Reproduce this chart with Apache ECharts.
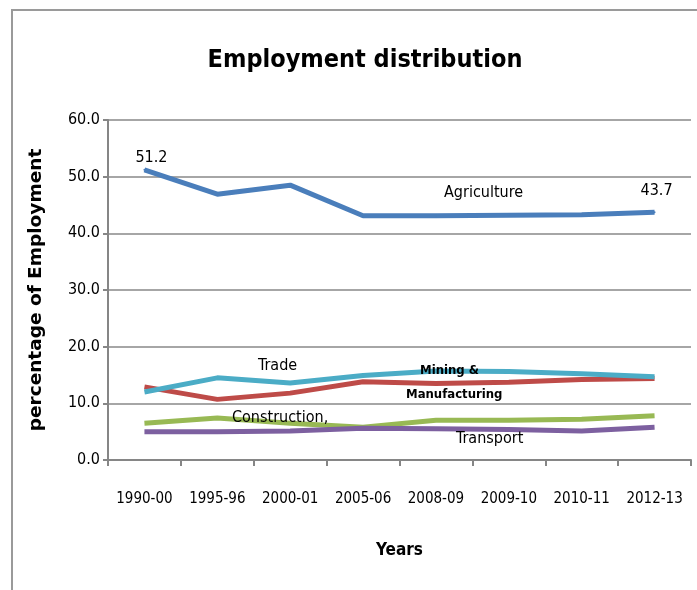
<!DOCTYPE html>
<html><head><meta charset="utf-8">
<script src="https://cdn.jsdelivr.net/npm/echarts@6/dist/echarts.min.js"></script>
<style>html,body{margin:0;padding:0;background:#fff}#c{width:697px;height:590px}</style>
</head><body><div id="c"></div>
<script>
const categories = ['1990-00','1995-96','2000-01','2005-06','2008-09','2009-10','2010-11','2012-13'];
const agriculture = [51.2, 46.9, 48.5, 43.1, 43.1, 43.2, 43.3, 43.7];
const trade = [12.0, 14.5, 13.6, 14.9, 15.7, 15.6, 15.2, 14.7];
const mining = [12.9, 10.7, 11.8, 13.8, 13.5, 13.7, 14.2, 14.4];
const construction = [6.5, 7.4, 6.5, 5.8, 7.0, 7.0, 7.2, 7.8];
const transport = [5.0, 5.0, 5.1, 5.6, 5.5, 5.4, 5.1, 5.8];
const yTicks = [0, 10, 20, 30, 40, 50, 60];

const narrow = '"Liberation Sans Narrow", "DejaVu Sans Condensed", sans-serif';
const chart = echarts.init(document.getElementById('c'), null, {renderer:'canvas'});

function s(name, data, color, extra) {
  return Object.assign({
    name, type:'line', data, symbol:'none', smooth:false,
    lineStyle:{color, width:5}, itemStyle:{color}, z:2
  }, extra||{});
}
const lastIdx = agriculture.length - 1;
const agriItems = agriculture.map((v, i) => {
  if (i === 0) return {value:v, label:{show:true, distance:3, offset:[7,0]}};
  if (i === lastIdx) return {value:v, label:{show:true, distance:13, offset:[2,0]}};
  return {value:v, label:{show:false}};
});

chart.setOption({
  animation:false,
  title:{text:'Employment distribution', left:360, top:43, textAlign:'center',
    textStyle:{fontFamily:narrow, fontWeight:'bold', fontSize:25, color:'#000'}},
  grid:{left:108, right:6, top:120, bottom:130, containLabel:false},
  xAxis:{type:'category', data:categories, boundaryGap:true,
    name:'Years', nameLocation:'middle', nameGap:82,
    nameTextStyle:{fontFamily:narrow, fontWeight:'bold', fontSize:17, color:'#000'},
    axisLine:{lineStyle:{color:'#868686', width:2}},
    axisTick:{show:true, length:6, interval:0, lineStyle:{color:'#868686', width:2}},
    axisLabel:{fontFamily:narrow, fontSize:15, color:'#000', margin:32, interval:0}},
  yAxis:{type:'value', min:yTicks[0], max:yTicks[yTicks.length-1], interval:10,
    name:'percentage of Employment', nameLocation:'middle', nameGap:62, nameRotate:90,
    nameTextStyle:{fontFamily:'"DejaVu Sans", sans-serif', fontWeight:'bold', fontSize:18.5, color:'#000'},
    axisLine:{show:true, lineStyle:{color:'#868686', width:2}},
    axisTick:{show:true, length:5, lineStyle:{color:'#868686', width:2}},
    splitLine:{lineStyle:{color:'#a6a6a6', width:2}},
    axisLabel:{fontFamily:narrow, fontSize:16, color:'#000', margin:8,
      formatter:v=>v.toFixed(1)}},
  series:[
    s('Agriculture', agriItems, '#4a7ebb', {symbol:'circle', symbolSize:2, showSymbol:true,
      label:{show:false, position:'top',
      fontFamily:narrow, fontSize:16, color:'#000',
      formatter:p => Number(p.value).toFixed(1)}}),
    s('Mining & Manufacturing', mining, '#be4b48'),
    s('Trade', trade, '#4bacc6'),
    s('Construction', construction, '#98b954'),
    s('Transport', transport, '#7d60a0')
  ],
  graphic:[
    {type:'rect', shape:{x:12, y:10, width:720, height:620}, style:{fill:'none', stroke:'#9a9a9a', lineWidth:2}, z:-1},
    {type:'text', left:444, top:185, style:{text:'Agriculture', font:'16px '+narrow, fill:'#000'}},
    {type:'text', left:258, top:358, style:{text:'Trade', font:'16px '+narrow, fill:'#000'}},
    {type:'text', left:420, top:364, style:{text:'Mining &', font:'bold 13px '+narrow, fill:'#000'}, z:10},
    {type:'text', left:406, top:388, style:{text:'Manufacturing', font:'bold 13px '+narrow, fill:'#000'}, z:10},
    {type:'text', left:232, top:410, style:{text:'Construction,', font:'16px '+narrow, fill:'#000'}, z:10},
    {type:'text', left:456, top:431, style:{text:'Transport', font:'16px '+narrow, fill:'#000'}, z:10}
  ]
});
</script></body></html>
